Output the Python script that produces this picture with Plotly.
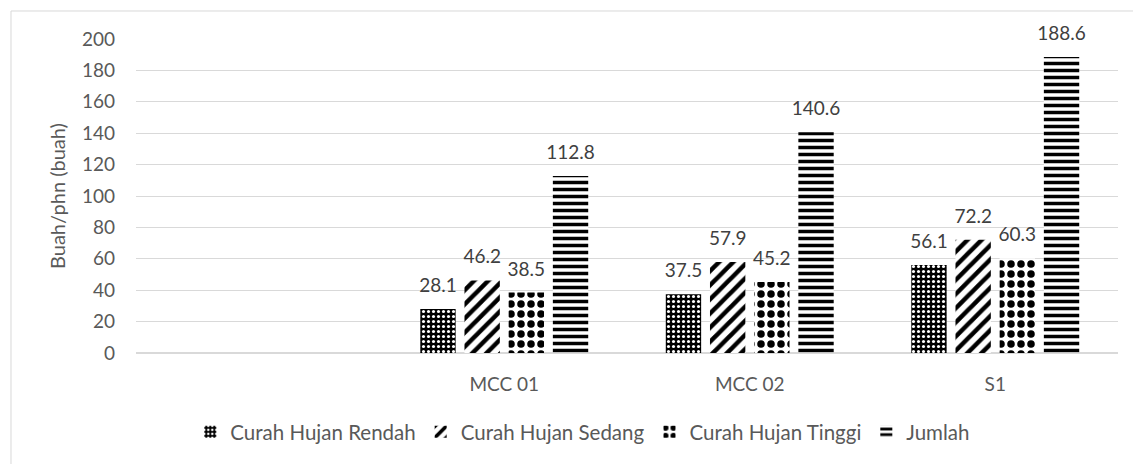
import plotly.graph_objects as go

categories = [" ", "MCC 01", "MCC 02", "S1"]
rendah = [None, 28.1, 37.5, 56.1]
sedang = [None, 46.2, 57.9, 72.2]
tinggi = [None, 38.5, 45.2, 60.3]
jumlah = [None, 112.8, 140.6, 188.6]
series_names = ["Curah Hujan Rendah", "Curah Hujan Sedang", "Curah Hujan Tinggi", "Jumlah"]
y_ticks = [0, 20, 40, 60, 80, 100, 120, 140, 160, 180, 200]

FONT = "Lato, 'Liberation Sans', sans-serif"

patterns = [
    dict(shape=".", fgcolor="white", bgcolor="black", size=5, solidity=0.3, fillmode="replace"),
    dict(shape="/", fgcolor="black", bgcolor="white", size=10, solidity=0.45, fillmode="replace"),
    dict(shape=".", fgcolor="black", bgcolor="white", size=10, solidity=0.45, fillmode="replace"),
    dict(shape="-", fgcolor="black", bgcolor="white", size=7, solidity=0.5, fillmode="replace"),
]

fig = go.Figure()
all_vals = [rendah, sedang, tinggi, jumlah]
for name, vals, pat in zip(series_names, all_vals, patterns):
    fig.add_trace(go.Bar(
        x=categories, y=vals, name=name, offsetgroup=name, alignmentgroup="a",
        marker=dict(color="white", pattern=pat, line=dict(width=0)),
    ))
for name, vals in zip(series_names, all_vals):
    fig.add_trace(go.Scatter(
        x=categories, y=vals, mode="text+markers", showlegend=False, hoverinfo="skip",
        marker=dict(size=18, opacity=0),
        text=[("" if v is None else f"{v:.1f}") for v in vals],
        textposition="top center",
        textfont=dict(family=FONT, size=19, color="#404040"),
        cliponaxis=False, offsetgroup=name, alignmentgroup="a",
    ))

fig.update_layout(
    width=1133, height=464,
    margin=dict(l=136, r=15, t=39, b=111, autoexpand=False),
    paper_bgcolor="white", plot_bgcolor="white",
    barmode="group", bargap=0.28, bargroupgap=0.2,
    scattermode="group", scattergap=0.28,
    font=dict(family=FONT, size=19, color="#595959"),
    showlegend=True,
    legend=dict(orientation="h", x=0.455, xanchor="center", y=-0.2516, yanchor="middle",
                font=dict(family=FONT, size=20.5, color="#595959"),
                itemwidth=30, tracegroupgap=0),
    xaxis=dict(type="category", categoryorder="array", categoryarray=categories,
               range=[-0.5, 3.5], showgrid=False, showline=True, linecolor="#d9d9d9",
               linewidth=1, ticks="", ticklabelstandoff=14,
               tickfont=dict(family=FONT, size=19, color="#595959")),
    yaxis=dict(range=[0, 200], tickvals=y_ticks, showgrid=True, gridcolor="#d9d9d9",
               gridwidth=1, zeroline=True, zerolinecolor="#d9d9d9", showline=False,
               ticks="", ticklabelstandoff=20,
               tickfont=dict(family=FONT, size=19, color="#595959")),
    shapes=[dict(type="rect", xref="paper", yref="paper",
                 x0=-0.1273, x1=1.03, y0=-0.38, y1=1.0892,
                 line=dict(color="#d9d9d9", width=1), fillcolor="rgba(0,0,0,0)",
                 layer="below")],
)
fig.update_yaxes(title=dict(text="Buah/phn (buah)", standoff=10,
                            font=dict(family=FONT, size=20, color="#595959")))

fig.write_html("out.html")
